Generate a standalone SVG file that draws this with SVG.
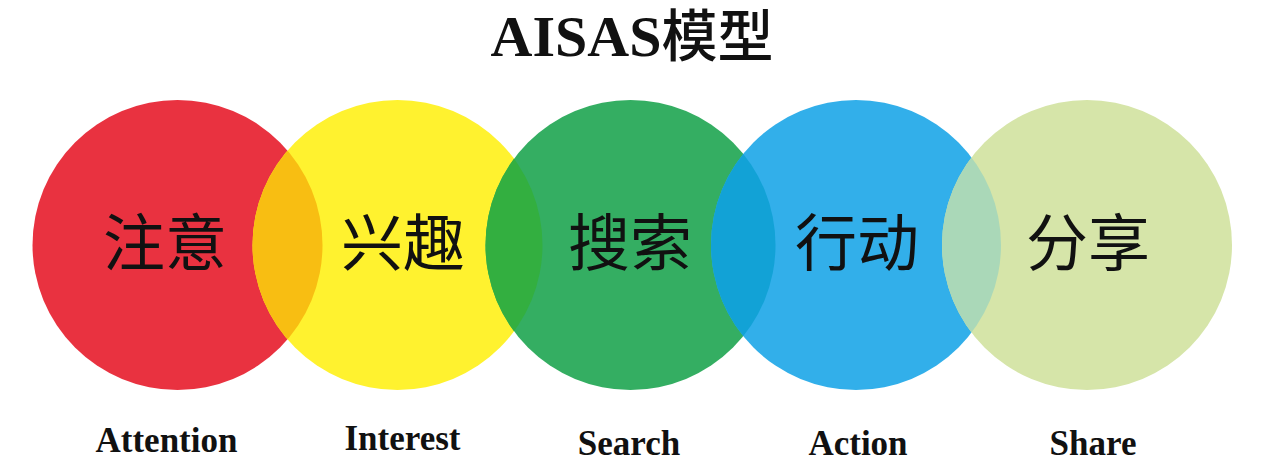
<svg xmlns="http://www.w3.org/2000/svg" width="1280" height="469" viewBox="0 0 1280 469">
<style>
.title{font-family:"Liberation Serif","Noto Sans CJK SC",serif;font-weight:bold;font-size:58px;fill:#111;text-anchor:middle}
.title .cjk{font-family:"Noto Sans CJK SC",sans-serif;font-weight:500;font-size:56px}
.cn{font-family:"Noto Sans CJK SC",sans-serif;font-weight:400;font-size:62px;fill:#111;text-anchor:middle}
.en{font-family:"Liberation Serif",serif;font-weight:bold;font-size:35px;fill:#111;text-anchor:middle}
</style>
<defs>
<clipPath id="cA"><circle cx="177.5" cy="245" r="145"/></clipPath>
<clipPath id="cI"><circle cx="397.5" cy="245" r="145"/></clipPath>
<clipPath id="cS"><circle cx="630.5" cy="245" r="145"/></clipPath>
<clipPath id="cAc"><circle cx="856" cy="245" r="145"/></clipPath>
</defs>
<rect width="1280" height="469" fill="#ffffff"/>
<text class="title" x="632" y="56">AISAS<tspan class="cjk">模型</tspan></text>
<g id="attention">
<circle cx="177.5" cy="245" r="145" fill="#E93240"/>
</g>
<g id="interest">
<circle cx="397.5" cy="245" r="145" fill="#FFF22F"/>
<circle cx="397.5" cy="245" r="145" fill="#F8BE12" clip-path="url(#cA)"/>
</g>
<g id="search">
<circle cx="630.5" cy="245" r="145" fill="#34AE62"/>
<circle cx="630.5" cy="245" r="145" fill="#33AF40" clip-path="url(#cI)"/>
</g>
<g id="action">
<circle cx="856" cy="245" r="145" fill="#32AFEA"/>
<circle cx="856" cy="245" r="145" fill="#12A2D6" clip-path="url(#cS)"/>
</g>
<g id="share">
<circle cx="1087" cy="245" r="145" fill="#D6E5A9"/>
<circle cx="1087" cy="245" r="145" fill="#AAD8B8" clip-path="url(#cAc)"/>
</g>
<g id="labels">
<text class="cn" x="165" y="266">注意</text>
<text class="cn" x="403" y="266">兴趣</text>
<text class="cn" x="630" y="266">搜索</text>
<text class="cn" x="857" y="266">行动</text>
<text class="cn" x="1088" y="266">分享</text>
<text class="en" x="166.5" y="452">Attention</text>
<text class="en" x="402.5" y="450">Interest</text>
<text class="en" x="629" y="455">Search</text>
<text class="en" x="858" y="455">Action</text>
<text class="en" x="1093" y="455">Share</text>
</g>
<g id="connectors"/>
</svg>
